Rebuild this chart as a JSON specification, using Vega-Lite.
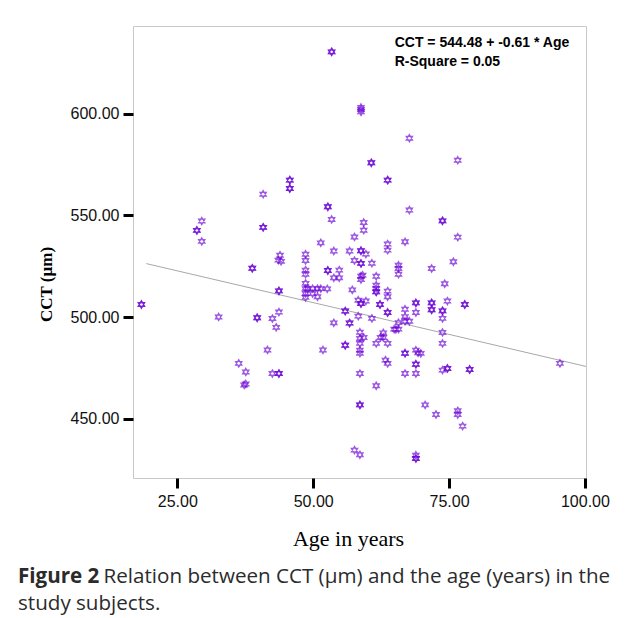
{
  "$schema": "https://vega.github.io/schema/vega-lite/v6.json",
  "width": 453,
  "height": 452,
  "autosize": {"type": "none"},
  "padding": {"left": 133, "top": 26, "right": 39, "bottom": 140},
  "background": "white",
  "config": {
    "view": {"stroke": "#c8c8c8", "strokeWidth": 1},
    "axis": {"grid": false, "domain": false}
  },
  "title": {
    "text": "Figure 2",
    "subtitle": ["\u200b\u00a0\u00a0\u00a0\u00a0\u00a0\u00a0\u00a0\u00a0\u00a0\u00a0\u00a0\u00a0\u00a0\u00a0\u00a0\u00a0Relation between CCT (µm) and the age (years) in the", "study subjects."],
    "orient": "bottom",
    "anchor": "start",
    "frame": "group",
    "dx": -115,
    "offset": 18,
    "font": "Open Sans",
    "fontSize": 20.6,
    "fontWeight": "bold",
    "color": "#2b2b2b",
    "lineHeight": 20.6,
    "subtitleFont": "Open Sans",
    "subtitleFontSize": 20.6,
    "subtitleFontWeight": "normal",
    "subtitleColor": "#2b2b2b",
    "subtitleLineHeight": 27,
    "subtitlePadding": -20.6
  },
  "datasets": {
    "points": [
      {"age": 18.4, "cct": 506.2}, {"age": 18.4, "cct": 506.2},
      {"age": 28.6, "cct": 542.6}, {"age": 28.6, "cct": 542.6},
      {"age": 29.5, "cct": 547.2}, {"age": 29.5, "cct": 537.2},
      {"age": 32.6, "cct": 500.1}, {"age": 36.3, "cct": 477.3},
      {"age": 37.3, "cct": 466.7}, {"age": 37.6, "cct": 467.2}, {"age": 37.6, "cct": 473.1},
      {"age": 38.8, "cct": 524.0}, {"age": 38.8, "cct": 524.0},
      {"age": 39.7, "cct": 499.7}, {"age": 39.7, "cct": 499.7},
      {"age": 40.8, "cct": 560.4}, {"age": 40.8, "cct": 544.1}, {"age": 40.8, "cct": 544.1},
      {"age": 41.6, "cct": 483.9}, {"age": 42.5, "cct": 499.3}, {"age": 42.5, "cct": 472.3},
      {"age": 43.2, "cct": 495.0}, {"age": 43.7, "cct": 502.5},
      {"age": 43.7, "cct": 512.9}, {"age": 43.7, "cct": 512.9},
      {"age": 43.7, "cct": 472.3}, {"age": 43.7, "cct": 472.3},
      {"age": 43.9, "cct": 530.4}, {"age": 43.6, "cct": 528.0}, {"age": 44.1, "cct": 527.4},
      {"age": 45.7, "cct": 567.3}, {"age": 45.7, "cct": 567.3},
      {"age": 45.7, "cct": 563.2}, {"age": 45.7, "cct": 563.2},
      {"age": 48.6, "cct": 530.9}, {"age": 48.6, "cct": 527.8}, {"age": 48.6, "cct": 523.1},
      {"age": 48.6, "cct": 521.1}, {"age": 48.6, "cct": 516.6}, {"age": 48.6, "cct": 514.0},
      {"age": 48.6, "cct": 511.6}, {"age": 48.6, "cct": 509.7},
      {"age": 49.0, "cct": 514.0}, {"age": 49.9, "cct": 514.0}, {"age": 49.9, "cct": 511.6},
      {"age": 50.8, "cct": 514.0}, {"age": 50.8, "cct": 510.0},
      {"age": 51.4, "cct": 514.0}, {"age": 51.4, "cct": 536.5},
      {"age": 51.8, "cct": 483.9}, {"age": 52.6, "cct": 513.9},
      {"age": 52.7, "cct": 554.2}, {"age": 52.7, "cct": 554.2},
      {"age": 52.7, "cct": 522.9}, {"age": 52.7, "cct": 522.9},
      {"age": 53.4, "cct": 630.3}, {"age": 53.4, "cct": 630.3}, {"age": 53.4, "cct": 548.0},
      {"age": 53.8, "cct": 532.5}, {"age": 53.8, "cct": 519.3}, {"age": 53.8, "cct": 497.2},
      {"age": 54.8, "cct": 523.1}, {"age": 54.8, "cct": 519.3},
      {"age": 55.9, "cct": 503.0}, {"age": 55.9, "cct": 503.0},
      {"age": 55.9, "cct": 486.2}, {"age": 55.9, "cct": 486.2},
      {"age": 56.7, "cct": 532.5}, {"age": 56.7, "cct": 497.1}, {"age": 56.7, "cct": 497.1},
      {"age": 57.2, "cct": 513.4},
      {"age": 57.6, "cct": 539.4}, {"age": 57.6, "cct": 527.8}, {"age": 57.6, "cct": 434.7},
      {"age": 58.3, "cct": 508.3}, {"age": 58.3, "cct": 500.5},
      {"age": 58.6, "cct": 492.6}, {"age": 58.6, "cct": 489.5}, {"age": 58.6, "cct": 487.1},
      {"age": 58.6, "cct": 483.8}, {"age": 58.6, "cct": 482.3}, {"age": 58.6, "cct": 472.3},
      {"age": 58.6, "cct": 456.9}, {"age": 58.6, "cct": 456.9}, {"age": 58.6, "cct": 432.4},
      {"age": 58.8, "cct": 532.6}, {"age": 58.8, "cct": 532.6},
      {"age": 58.8, "cct": 526.4}, {"age": 58.8, "cct": 526.4},
      {"age": 58.8, "cct": 520.1}, {"age": 58.8, "cct": 518.5},
      {"age": 58.8, "cct": 506.7}, {"age": 58.8, "cct": 506.7},
      {"age": 58.8, "cct": 602.0}, {"age": 58.8, "cct": 603.0}, {"age": 58.8, "cct": 600.8},
      {"age": 59.1, "cct": 520.6},
      {"age": 59.3, "cct": 546.5}, {"age": 59.3, "cct": 542.7}, {"age": 59.3, "cct": 490.0},
      {"age": 59.7, "cct": 531.0}, {"age": 59.7, "cct": 507.9},
      {"age": 60.7, "cct": 575.8}, {"age": 60.7, "cct": 575.8},
      {"age": 60.8, "cct": 526.5}, {"age": 60.8, "cct": 499.4},
      {"age": 61.6, "cct": 520.1}, {"age": 61.6, "cct": 515.7}, {"age": 61.6, "cct": 514.1},
      {"age": 61.6, "cct": 512.4}, {"age": 61.6, "cct": 512.4}, {"age": 61.6, "cct": 487.1},
      {"age": 61.6, "cct": 466.3},
      {"age": 62.3, "cct": 506.2}, {"age": 62.3, "cct": 506.2},
      {"age": 62.4, "cct": 490.0}, {"age": 62.9, "cct": 492.3}, {"age": 62.9, "cct": 490.0},
      {"age": 63.3, "cct": 478.9}, {"age": 63.7, "cct": 477.3},
      {"age": 63.7, "cct": 567.3}, {"age": 63.7, "cct": 567.3},
      {"age": 63.7, "cct": 535.9}, {"age": 63.7, "cct": 532.9}, {"age": 63.7, "cct": 512.8},
      {"age": 63.7, "cct": 510.0}, {"age": 63.7, "cct": 502.3}, {"age": 63.7, "cct": 502.3},
      {"age": 63.7, "cct": 487.1},
      {"age": 64.9, "cct": 494.1}, {"age": 65.2, "cct": 494.0},
      {"age": 65.7, "cct": 525.5}, {"age": 65.7, "cct": 523.9}, {"age": 65.7, "cct": 521.1},
      {"age": 65.7, "cct": 497.3}, {"age": 65.7, "cct": 494.1},
      {"age": 66.9, "cct": 537.0}, {"age": 66.9, "cct": 503.9}, {"age": 66.9, "cct": 500.2},
      {"age": 66.9, "cct": 498.0}, {"age": 66.9, "cct": 482.3}, {"age": 66.9, "cct": 482.3},
      {"age": 66.9, "cct": 472.3},
      {"age": 67.7, "cct": 587.9}, {"age": 67.7, "cct": 552.6}, {"age": 67.7, "cct": 498.0},
      {"age": 68.9, "cct": 507.0}, {"age": 68.9, "cct": 507.0}, {"age": 68.9, "cct": 502.3},
      {"age": 68.9, "cct": 483.8}, {"age": 68.9, "cct": 476.9}, {"age": 68.9, "cct": 476.9},
      {"age": 68.9, "cct": 472.3}, {"age": 68.9, "cct": 432.2},
      {"age": 68.9, "cct": 430.6}, {"age": 68.9, "cct": 430.6},
      {"age": 69.3, "cct": 482.5}, {"age": 69.8, "cct": 482.2},
      {"age": 70.6, "cct": 456.9},
      {"age": 71.8, "cct": 523.9}, {"age": 71.8, "cct": 507.0}, {"age": 71.8, "cct": 507.0},
      {"age": 71.8, "cct": 503.6}, {"age": 71.8, "cct": 503.6},
      {"age": 72.6, "cct": 452.2},
      {"age": 73.8, "cct": 547.3}, {"age": 73.8, "cct": 547.3},
      {"age": 73.8, "cct": 503.1}, {"age": 73.8, "cct": 503.1},
      {"age": 73.8, "cct": 499.4}, {"age": 73.8, "cct": 492.5}, {"age": 73.8, "cct": 487.1},
      {"age": 73.8, "cct": 474.0},
      {"age": 74.2, "cct": 516.4},
      {"age": 74.7, "cct": 507.9}, {"age": 74.7, "cct": 474.8}, {"age": 74.7, "cct": 474.8},
      {"age": 75.8, "cct": 527.2},
      {"age": 76.6, "cct": 577.1}, {"age": 76.6, "cct": 539.3}, {"age": 76.6, "cct": 454.0},
      {"age": 76.6, "cct": 452.2},
      {"age": 77.5, "cct": 446.5},
      {"age": 77.9, "cct": 506.2}, {"age": 77.9, "cct": 506.2},
      {"age": 78.8, "cct": 474.3}, {"age": 78.8, "cct": 474.3},
      {"age": 95.4, "cct": 477.3}
    ],
    "fit": [
      {"age": 19.3, "cct": 526.3},
      {"age": 100.2, "cct": 475.8}
    ],
    "note": [
      {"label": ["CCT = 544.48 + -0.61 * Age", "R-Square = 0.05"]}
    ]
  },
  "layer": [
    {
      "data": {"name": "fit"},
      "mark": {"type": "line", "color": "#a8a8a8", "strokeWidth": 1},
      "encoding": {
        "x": {"field": "age", "type": "quantitative"},
        "y": {"field": "cct", "type": "quantitative"}
      }
    },
    {
      "data": {"name": "points"},
      "mark": {
        "type": "point",
        "shape": "M0,-1L0.866,0.5L-0.866,0.5ZM0,1L0.866,-0.5L-0.866,-0.5Z",
        "filled": false,
        "stroke": "#6a00d6",
        "strokeWidth": 1.2,
        "opacity": 0.65,
        "size": 55
      },
      "encoding": {
        "x": {
          "field": "age",
          "type": "quantitative",
          "scale": {"domain": [16.85, 100.2], "nice": false, "zero": false},
          "axis": {
            "values": [25, 50, 75, 100],
            "format": ".2f",
            "title": "Age in years",
            "titleFont": "Liberation Serif",
            "titleFontSize": 22,
            "titleFontWeight": "normal",
            "titleColor": "#000",
            "titleBaseline": "middle",
            "titleAnchor": "middle",
            "titleX": 215,
            "titleY": 60,
            "labelFont": "Liberation Sans",
            "labelFontSize": 16,
            "labelColor": "#111",
            "labelPadding": 5,
            "tickColor": "#000",
            "tickWidth": 3,
            "tickSize": 10
          }
        },
        "y": {
          "field": "cct",
          "type": "quantitative",
          "scale": {"domain": [421, 643], "nice": false, "zero": false},
          "axis": {
            "values": [450, 500, 550, 600],
            "format": ".2f",
            "title": "CCT (µm)",
            "titleFont": "Liberation Serif",
            "titleFontSize": 17,
            "titleFontWeight": "bold",
            "titleColor": "#000",
            "titleAngle": -90,
            "titleBaseline": "middle",
            "titleAlign": "center",
            "titleX": -87,
            "titleY": 258,
            "labelFont": "Liberation Sans",
            "labelFontSize": 16,
            "labelColor": "#111",
            "labelPadding": 4,
            "tickColor": "#000",
            "tickWidth": 3,
            "tickSize": 10
          }
        }
      }
    },
    {
      "data": {"name": "note"},
      "mark": {
        "type": "text",
        "align": "left",
        "baseline": "alphabetic",
        "font": "Liberation Sans",
        "fontSize": 14,
        "fontWeight": "bold",
        "color": "#000",
        "lineHeight": 18.7
      },
      "encoding": {
        "x": {"datum": 65.0, "type": "quantitative"},
        "y": {"datum": 632.6, "type": "quantitative"},
        "text": {"field": "label"}
      }
    }
  ]
}
